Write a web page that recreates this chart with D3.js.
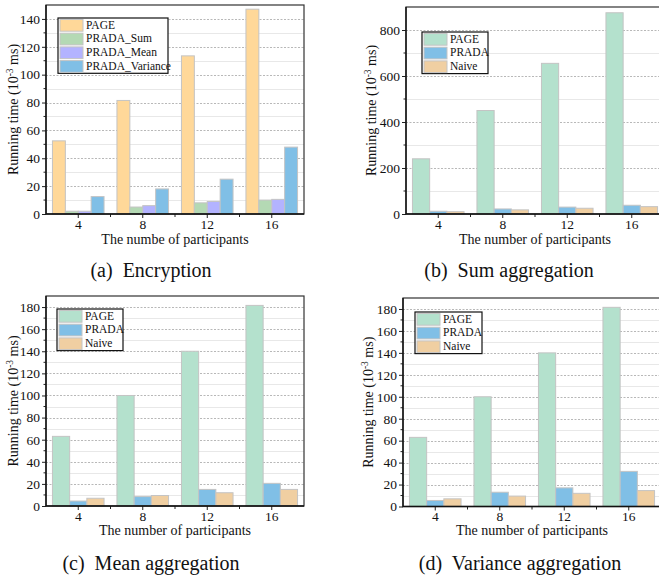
<!DOCTYPE html>
<html>
<head>
<meta charset="utf-8">
<script src="https://cdn.jsdelivr.net/npm/d3@7"></script>
<style>
  body { margin: 0; background: #fff; }
  svg text { font-family: "Liberation Serif", "Times New Roman", Times, "DejaVu Serif", serif; }
</style>
</head>
<body>
<div id="chart"></div>
<script>
  'use strict';

  // categories on the x axis
  var participants = ["4", "8", "12", "16"];

  // (a) Encryption
  var encSeries = ["PAGE", "PRADA_Sum", "PRADA_Mean", "PRADA_Variance"];
  var encPage = [52.5, 81.5, 113.5, 147];
  var encSum = [2, 5, 8, 10];
  var encMean = [2, 6, 9, 10.5];
  var encVariance = [12.5, 18, 25, 48];

  // (b)-(d) aggregation
  var aggSeries = ["PAGE", "PRADA", "Naive"];
  var sumPage = [240, 450, 655, 875];
  var sumPrada = [12, 22, 30, 38];
  var sumNaive = [10, 18, 25, 32];

  var meanPage = [63, 100, 140, 181.5];
  var meanPrada = [4.5, 8.5, 15, 20.5];
  var meanNaive = [7, 9.5, 12, 15];

  var varPage = [63, 100, 140, 181.5];
  var varPrada = [5.5, 13, 17, 32];
  var varNaive = [7, 9.5, 12, 14.5];

  var encColors = ["#FFD899", "#B4D9B4", "#B3B3FF", "#80BFE6"];
  var aggColors = ["#B4E1CD", "#80BFE6", "#F0CFA2"];

  var panels = [
    { left: 46, top: 5, bottom: 214, max: 150, major: 20, minor: 10,
      series: encSeries, colors: encColors, values: [encPage, encSum, encMean, encVariance],
      xlabel: "The numbe of participants", caption: "(a)  Encryption",
      legend: { x: 58, y: 18, w: 110 }, capX: 151, capY: 277, xlabY: 244, ylabX: 18 },
    { left: 406, top: 7, bottom: 214, max: 900, major: 200, minor: 100,
      series: aggSeries, colors: aggColors, values: [sumPage, sumPrada, sumNaive],
      xlabel: "The number of participants", caption: "(b)  Sum aggregation",
      legend: { x: 422, y: 32, w: 66 }, capX: 509, capY: 277, xlabY: 244, ylabX: 376 },
    { left: 46, top: 296, bottom: 506, max: 190, major: 20, minor: 10,
      series: aggSeries, colors: aggColors, values: [meanPage, meanPrada, meanNaive],
      xlabel: "The number of participants", caption: "(c)  Mean aggregation",
      legend: { x: 57, y: 309, w: 66 }, capX: 151, capY: 570, xlabY: 535, ylabX: 18 },
    { left: 403, top: 298, bottom: 506.5, max: 190, major: 20, minor: 10,
      series: aggSeries, colors: aggColors, values: [varPage, varPrada, varNaive],
      xlabel: "The number of participants", caption: "(d)  Variance aggregation",
      legend: { x: 415, y: 312, w: 67 }, capX: 520, capY: 570, xlabY: 535, ylabX: 373 }
  ];

  var width = 659, height = 581, plotW = 258;
  var serif = '"Liberation Serif", "Times New Roman", Times, "DejaVu Serif", serif';

  var svg = d3.select("#chart").append("svg")
    .attr("width", width)
    .attr("height", height)
    .attr("font-family", serif);

  function drawPanel (p) {
    var g = svg.append("g");
    var right = p.left + plotW;

    var x = d3.scaleBand().domain(participants).range([p.left, right]);
    var inner = d3.scaleBand().domain(p.series)
      .range([x.bandwidth() * 0.1, x.bandwidth() * 0.9]);
    var y = d3.scaleLinear().domain([0, p.max]).range([p.bottom, p.top]);

    // grid
    var gridVals = d3.range(p.minor, p.max, p.minor);
    g.selectAll("line.grid")
      .data(gridVals)
      .enter().append("line")
      .attr("class", "grid")
      .attr("x1", p.left).attr("x2", right)
      .attr("y1", function (d) { return Math.round(y(d)) + 0.5; })
      .attr("y2", function (d) { return Math.round(y(d)) + 0.5; })
      .style("stroke", function (d) { return d % p.major === 0 ? "#b8b8b8" : "#e8e8e8"; })
      .style("stroke-dasharray", function (d) { return d % p.major === 0 ? "2,1.5" : null; })
      .style("stroke-width", 1);

    // bars
    var rows = [];
    p.series.forEach(function (s, si) {
      participants.forEach(function (c, ci) {
        rows.push({ series: s, cat: c, value: p.values[si][ci], color: p.colors[si] });
      });
    });

    g.selectAll("rect.bar")
      .data(rows)
      .enter().append("rect")
      .attr("class", "bar")
      .attr("x", function (d) { return x(d.cat) + inner(d.series); })
      .attr("y", function (d) { return y(d.value); })
      .attr("width", inner.bandwidth())
      .attr("height", function (d) { return p.bottom - y(d.value); })
      .style("fill", function (d) { return d.color; })
      .style("stroke", "#c4c4c4")
      .style("stroke-width", 1);

    // frame
    g.append("rect")
      .attr("x", p.left).attr("y", p.top)
      .attr("width", plotW).attr("height", p.bottom - p.top)
      .style("fill", "none")
      .style("stroke", "#333")
      .style("stroke-width", 1.2);

    // y axis
    var yAxis = d3.axisLeft(y)
      .tickValues(d3.range(0, p.max, p.major))
      .tickSize(4).tickPadding(2);
    var ya = g.append("g").attr("transform", "translate(" + p.left + ",0)").call(yAxis)
      .attr("font-family", serif).attr("font-size", 13.5);
    ya.select(".domain").remove();
    ya.selectAll("text").style("fill", "#111");
    ya.selectAll("line").style("stroke", "#222");

    g.selectAll("line.yminor")
      .data(d3.range(p.minor, p.max, p.major))
      .enter().append("line")
      .attr("class", "yminor")
      .attr("x1", p.left - 2.5).attr("x2", p.left)
      .attr("y1", function (d) { return y(d); })
      .attr("y2", function (d) { return y(d); })
      .style("stroke", "#222");

    // x axis
    var xAxis = d3.axisBottom(x).tickSize(4).tickPadding(1);
    var xa = g.append("g").attr("transform", "translate(0," + p.bottom + ")").call(xAxis)
      .attr("font-family", serif).attr("font-size", 13.5);
    xa.select(".domain").remove();
    xa.selectAll("text").style("fill", "#111");
    xa.selectAll("line").style("stroke", "#222");

    g.selectAll("line.xminor")
      .data(participants.slice(1))
      .enter().append("line")
      .attr("class", "xminor")
      .attr("x1", function (d) { return x(d); })
      .attr("x2", function (d) { return x(d); })
      .attr("y1", p.bottom).attr("y2", p.bottom + 3)
      .style("stroke", "#222");

    // axis line on left and bottom
    g.append("path")
      .attr("d", "M" + p.left + "," + p.top + "V" + p.bottom + "H" + right)
      .style("fill", "none")
      .style("stroke", "#111")
      .style("stroke-width", 1.4);

    // labels
    g.append("text")
      .attr("x", p.left + plotW / 2)
      .attr("y", p.xlabY)
      .attr("text-anchor", "middle")
      .style("font-size", "14px")
      .style("fill", "#111")
      .text(p.xlabel);

    var yl = g.append("text")
      .attr("transform", "translate(" + p.ylabX + "," + ((p.top + p.bottom) / 2) + ") rotate(-90)")
      .attr("text-anchor", "middle")
      .style("font-size", "14px")
      .style("fill", "#111");
    yl.append("tspan").text("Running time (10");
    yl.append("tspan").attr("dy", -5).style("font-size", "9.5px").text("-3");
    yl.append("tspan").attr("dy", 5).text(" ms)");

    g.append("text")
      .attr("x", p.capX)
      .attr("y", p.capY)
      .attr("text-anchor", "middle")
      .style("font-size", "20px")
      .style("fill", "#111")
      .style("white-space", "pre")
      .text(p.caption);

    // legend
    var rowH = 13.7;
    var lg = g.append("g").attr("transform", "translate(" + p.legend.x + "," + p.legend.y + ")");
    lg.append("rect")
      .attr("width", p.legend.w)
      .attr("height", rowH * p.series.length + 0.5)
      .style("fill", "#fff")
      .style("stroke", "#111")
      .style("stroke-width", 1.2);
    var items = lg.selectAll("g.item")
      .data(p.series)
      .enter().append("g")
      .attr("class", "item")
      .attr("transform", function (d, i) { return "translate(0," + (i * rowH) + ")"; });
    items.append("rect")
      .attr("x", 2).attr("y", 1.5)
      .attr("width", 23).attr("height", rowH - 2)
      .style("fill", function (d, i) { return p.colors[i]; })
      .style("stroke", "#c4c4c4");
    items.append("text")
      .attr("x", 28).attr("y", rowH - 3)
      .style("font-size", "11.5px")
      .style("fill", "#111")
      .text(function (d) { return d; });
  }

  panels.forEach(drawPanel);
</script>
</body>
</html>
